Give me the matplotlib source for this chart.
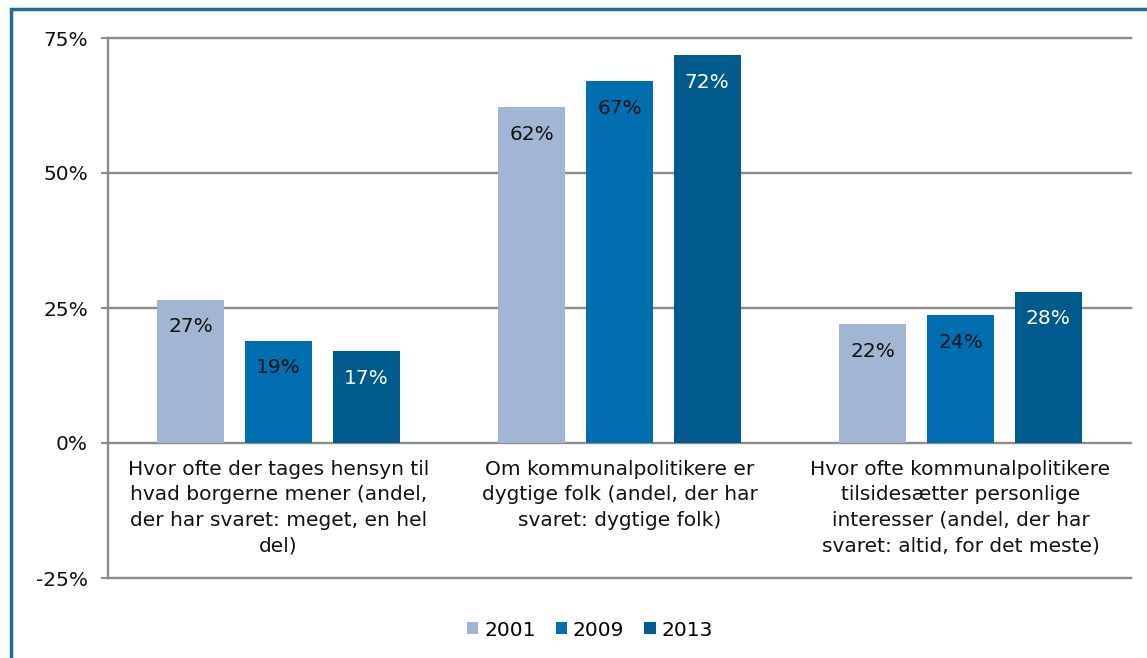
import matplotlib
matplotlib.use("Agg")
import matplotlib.pyplot as plt
import numpy as np
from matplotlib.patches import Rectangle

categories = [
    "Hvor ofte der tages hensyn til\nhvad borgerne mener (andel,\nder har svaret: meget, en hel\ndel)",
    "Om kommunalpolitikere er\ndygtige folk (andel, der har\nsvaret: dygtige folk)",
    "Hvor ofte kommunalpolitikere\ntilsidesætter personlige\ninteresser (andel, der har\nsvaret: altid, for det meste)",
]
series_names = ["2001", "2009", "2013"]
values_2001 = [0.265, 0.622, 0.220]
values_2009 = [0.189, 0.670, 0.237]
values_2013 = [0.170, 0.718, 0.280]
labels_2001 = ["27%", "62%", "22%"]
labels_2009 = ["19%", "67%", "24%"]
labels_2013 = ["17%", "72%", "28%"]
yticks = [-0.25, 0, 0.25, 0.5, 0.75]
ytick_labels = ["-25%", "0%", "25%", "50%", "75%"]

colors = ["#A2B5D2", "#006EAF", "#005A8C"]
text_colors = ["#111111", "#111111", "#FFFFFF"]
grid_color = "#8C8C8C"

plt.rcParams['font.family'] = ['DejaVu Sans']
fig = plt.figure(figsize=(11.47, 6.58), dpi=100)
ax = fig.add_axes([108/1147, 1-578/658, (1131-108)/1147, (578-38)/658])

series = [values_2001, values_2009, values_2013]
labels = [labels_2001, labels_2009, labels_2013]
x = np.arange(len(categories))
width = 0.196
offsets = [-0.257, 0, 0.257]
for i, (vals, labs) in enumerate(zip(series, labels)):
    bars = ax.bar(x + offsets[i], vals, width, color=colors[i], label=series_names[i], zorder=3)
    for b, v, l in zip(bars, vals, labs):
        ax.annotate(l, (b.get_x() + b.get_width()/2, v), xytext=(0, -27),
                    textcoords="offset pixels",
                    ha="center", va="center", fontsize=14.5, color=text_colors[i], zorder=4)

ax.set_xlim(-0.5, 2.5)
ax.set_ylim(-0.25, 0.75)
ax.set_yticks(yticks)
ax.set_yticklabels(ytick_labels, fontsize=14.5, color="#111111")
for yv in yticks:
    ax.axhline(yv, color=grid_color, linewidth=1.7, zorder=2, clip_on=False)
ax.tick_params(axis="y", length=5, width=1.5, color=grid_color, pad=9.4)
ax.set_xticks([])
for s in ["top", "right", "bottom"]:
    ax.spines[s].set_visible(False)
ax.spines["left"].set_color(grid_color)
ax.spines["left"].set_linewidth(1.7)

for xi, cat in zip(x, categories):
    ax.text(xi, -0.031, cat, ha="center", va="top", fontsize=14.5, color="#111111",
            linespacing=1.43)

leg = fig.legend(loc="center", bbox_to_anchor=(590/1147, 1-630/658), ncol=3, frameon=False,
                 fontsize=14.5, handlelength=0.55, handleheight=0.55, handletextpad=0.3,
                 columnspacing=1.0)

# outer frame (partially cropped)
fig.add_artist(Rectangle((11/1147, -0.05), 1.2, 1-9.5/658 + 0.05, transform=fig.transFigure,
                         fill=False, edgecolor="#1F6A9A", linewidth=2.5))

fig.savefig("out.png", dpi=100)
